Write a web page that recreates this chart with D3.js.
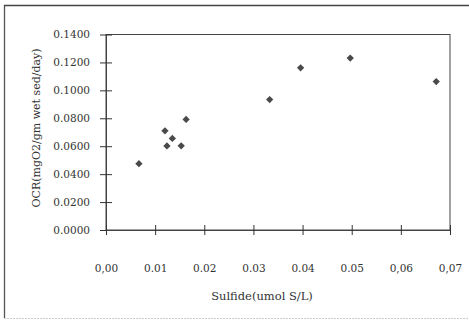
<!DOCTYPE html>
<html>
<head>
<meta charset="utf-8">
<script src="https://cdn.jsdelivr.net/npm/d3@7"></script>
<style>
  html, body { margin: 0; padding: 0; background: #fff; }
  svg { display: block; }
  text { font-family: "DejaVu Serif", "Liberation Serif", serif; fill: #333; }
</style>
</head>
<body>
<svg id="chart" width="469" height="325"></svg>
<script>
// Sulfide concentration (umol S/L) and oxygen consumption rate
const sulfide = [0.0067, 0.0120, 0.0124, 0.0135, 0.0153, 0.0163, 0.0333, 0.0396, 0.0497, 0.0672];
const ocr     = [0.0475, 0.0710, 0.0602, 0.0656, 0.0603, 0.0792, 0.0934, 0.1161, 0.1231, 0.1063];

const xTickValues = [0, 0.01, 0.02, 0.03, 0.04, 0.05, 0.06, 0.07];
const xTickLabels = ["0,00", "0.01", "0.02", "0.03", "0.04", "0.05", "0,06", "0,07"];
const yTickValues = [0, 0.02, 0.04, 0.06, 0.08, 0.10, 0.12, 0.14];
const yTickLabels = ["0.0000", "0.0200", "0.0400", "0.0600", "0.0800", "0.1000", "0.1200", "0.1400"];

const xTitle = "Sulfide(umol S/L)";
const yTitle = "OCR(mgO2/gm wet sed/day)";

const svg = d3.select("#chart");
const W = 469, H = 325;
const plot = { left: 106, right: 450, top: 34.5, bottom: 230 };

// outer frame
svg.append("line").attr("x1", 4.5).attr("x2", 4.5).attr("y1", 5).attr("y2", 318)
  .attr("stroke", "#555").attr("stroke-width", 1.3);
svg.append("line").attr("x1", 4).attr("x2", W).attr("y1", 5.5).attr("y2", 5.5)
  .attr("stroke", "#444").attr("stroke-width", 1.3);
svg.append("line").attr("x1", 4).attr("x2", W).attr("y1", 318.5).attr("y2", 318.5)
  .attr("stroke", "#ccc").attr("stroke-width", 1).attr("stroke-dasharray", "2,1");

const x = d3.scaleLinear().domain([0, 0.07]).range([plot.left, plot.right]);
const y = d3.scaleLinear().domain([0, 0.14]).range([plot.bottom, plot.top]);

// plot area border
svg.append("rect")
  .attr("x", plot.left).attr("y", plot.top)
  .attr("width", plot.right - plot.left).attr("height", plot.bottom - plot.top)
  .attr("fill", "none").attr("stroke", "#444").attr("stroke-width", 1);

// y axis with ticks crossing the line
const yAxis = d3.axisLeft(y)
  .tickValues(yTickValues)
  .tickFormat((d, i) => yTickLabels[i])
  .tickSizeInner(6).tickSizeOuter(0).tickPadding(10);
const gy = svg.append("g").attr("transform", `translate(${plot.left},0)`).call(yAxis);
gy.select(".domain").attr("stroke", "#444");
gy.selectAll(".tick line").attr("x2", -6).attr("x1", 6).attr("stroke", "#333");
gy.selectAll(".tick text").attr("font-size", 10.5).attr("fill", "#3a3a3a")
  .style("font-family", '"DejaVu Serif", serif');

// x axis with ticks crossing the line
const xAxis = d3.axisBottom(x)
  .tickValues(xTickValues)
  .tickFormat((d, i) => xTickLabels[i])
  .tickSizeInner(5).tickSizeOuter(0).tickPadding(30);
const gx = svg.append("g").attr("transform", `translate(0,${plot.bottom})`).call(xAxis);
gx.select(".domain").attr("stroke", "#444");
gx.selectAll(".tick line").attr("y1", -5).attr("y2", 5).attr("stroke", "#333");
gx.selectAll(".tick text").attr("font-size", 10.5).attr("fill", "#3a3a3a")
  .style("font-family", '"DejaVu Serif", serif');

// axis titles
svg.append("text")
  .attr("x", 262).attr("y", 300)
  .attr("text-anchor", "middle")
  .attr("font-size", 11.5)
  .attr("fill", "#3a3a3a")
  .text(xTitle);

svg.append("text")
  .attr("transform", `translate(40,128) rotate(-90)`)
  .attr("text-anchor", "middle")
  .attr("font-size", 11)
  .attr("fill", "#3a3a3a")
  .text(yTitle);

// data markers
svg.append("g").selectAll("path")
  .data(sulfide.map((s, i) => [s, ocr[i]]))
  .join("path")
  .attr("d", d3.symbol(d3.symbolDiamond2, 34))
  .attr("transform", d => `translate(${x(d[0])},${y(d[1])})`)
  .attr("fill", "#4a4a4a");
</script>
</body>
</html>
